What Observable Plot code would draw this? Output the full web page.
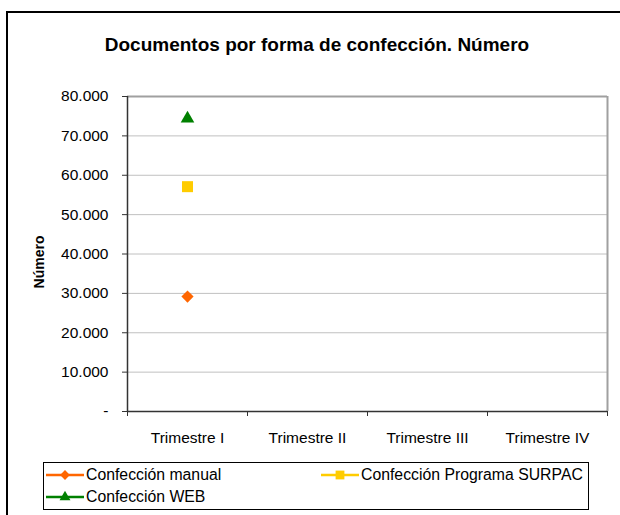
<!DOCTYPE html>
<html>
<head>
<meta charset="utf-8">
<script src="https://cdn.jsdelivr.net/npm/d3@7"></script>
<script src="https://cdn.jsdelivr.net/npm/@observablehq/plot@0.6"></script>
<style>
  html, body { margin: 0; padding: 0; background: #fff; }
  body { width: 620px; height: 515px; overflow: hidden; position: relative; font-family: "Liberation Sans", Arial, sans-serif; }
  #frame { position: absolute; left: 6px; top: 11px; width: 640px; height: 520px; border-left: 2px solid #000; border-top: 2px solid #000; }
  #title { position: absolute; left: 0; top: 34px; width: 634px; text-align: center; font-weight: bold; font-size: 19px; color: #000; }
  #chart { position: absolute; left: 0; top: 80px; }
  #legend { position: absolute; left: 43px; top: 462px; width: 546px; height: 48px; border: 1px solid #000; box-sizing: border-box; font-size: 15.8px; }
  .item { position: absolute; display: flex; align-items: center; white-space: nowrap; }
  .item svg { margin-right: 2px; }
</style>
</head>
<body>
<div id="frame"></div>
<div id="title">Documentos por forma de confección. Número</div>
<div id="chart"></div>
<div id="legend"></div>
<script>
const categories = ["Trimestre I", "Trimestre II", "Trimestre III", "Trimestre IV"];
const seriesNames = ["Confección manual", "Confección Programa SURPAC", "Confección WEB"];
const manual = [29200, null, null, null];
const surpac = [57100, null, null, null];
const web = [74400, null, null, null];
const yTicks = [0, 10000, 20000, 30000, 40000, 50000, 60000, 70000, 80000];
const colors = ["#ff6600", "#ffcc00", "#008000"];
const symbols = ["diamond2", "square2", "triangle2"];
const radii = [5.5, 7, 6.5];

const seriesValues = [manual, surpac, web];
const data = [];
seriesValues.forEach((vals, s) => vals.forEach((v, i) => {
  if (v != null) data.push({series: seriesNames[s], idx: i + 0.5, value: v, s});
}));

const fmt = d => d === 0 ? "-" : d3.format(",")(d).replace(/,/g, ".");

const chart = Plot.plot({
  width: 620,
  height: 370,
  marginTop: 16,
  marginBottom: 39,
  marginLeft: 127,
  marginRight: 13,
  style: {fontFamily: "'Liberation Sans', Arial, sans-serif", fontSize: "15.5px", color: "#000", background: "transparent"},
  x: {domain: [0, categories.length], axis: null},
  y: {domain: [0, 80000], axis: null},
  symbol: {type: "identity"},
  color: {type: "identity"},
  r: {type: "identity"},
  marks: [
    Plot.ruleY(yTicks.slice(1, -1), {stroke: "#c0c0c0", strokeWidth: 1}),
    Plot.ruleY([80000], {stroke: "#a0a0a0", strokeWidth: 2}),
    Plot.ruleX([categories.length], {stroke: "#a0a0a0", strokeWidth: 2}),
    Plot.axisY({ticks: yTicks, tickFormat: fmt, tickSize: 5, tickPadding: 14, stroke: "#333", fontSize: 15.5, label: null}),
    Plot.axisX({ticks: d3.range(categories.length + 1), tickFormat: () => "", tickSize: 5, stroke: "#333", label: null}),
    Plot.axisX({ticks: categories.map((c, i) => i + 0.5), tickFormat: t => categories[Math.floor(t)], tickSize: 0, tickPadding: 20, fontSize: 15.5, label: null}),
    Plot.ruleX([0], {stroke: "#333", strokeWidth: 1.5}),
    Plot.ruleY([0], {stroke: "#333", strokeWidth: 1.5}),
    Plot.dot(data, {x: "idx", y: "value", symbol: d => symbols[d.s], fill: d => colors[d.s], r: d => radii[d.s], stroke: "none"}),
    Plot.text(["Número"], {frameAnchor: "left", textAnchor: "middle", dx: -88, dy: 8, rotate: -90, fontWeight: "bold", fontSize: 14})
  ]
});
document.getElementById("chart").appendChild(chart);

// legend
const legend = document.getElementById("legend");
const positions = [[2, 3], [277, 3], [2, 25]];
const symMap = {diamond2: d3.symbolDiamond2, square2: d3.symbolSquare2, triangle2: d3.symbolTriangle2};
seriesNames.forEach((name, s) => {
  const item = document.createElement("div");
  item.className = "item";
  item.style.left = positions[s][0] + "px";
  item.style.top = positions[s][1] + "px";
  item.style.height = "18px";
  const sw = d3.create("svg").attr("width", 38).attr("height", 16);
  sw.append("line").attr("x1", 0).attr("x2", 38).attr("y1", 8).attr("y2", 8).attr("stroke", colors[s]).attr("stroke-width", 2.5);
  const r = radii[s] * 0.8;
  sw.append("path").attr("transform", "translate(19,8)").attr("d", d3.symbol(symMap[symbols[s]], Math.PI * r * r)()).attr("fill", colors[s]);
  item.appendChild(sw.node());
  const t = document.createElement("span");
  t.textContent = name;
  item.appendChild(t);
  legend.appendChild(item);
});
</script>
</body>
</html>
